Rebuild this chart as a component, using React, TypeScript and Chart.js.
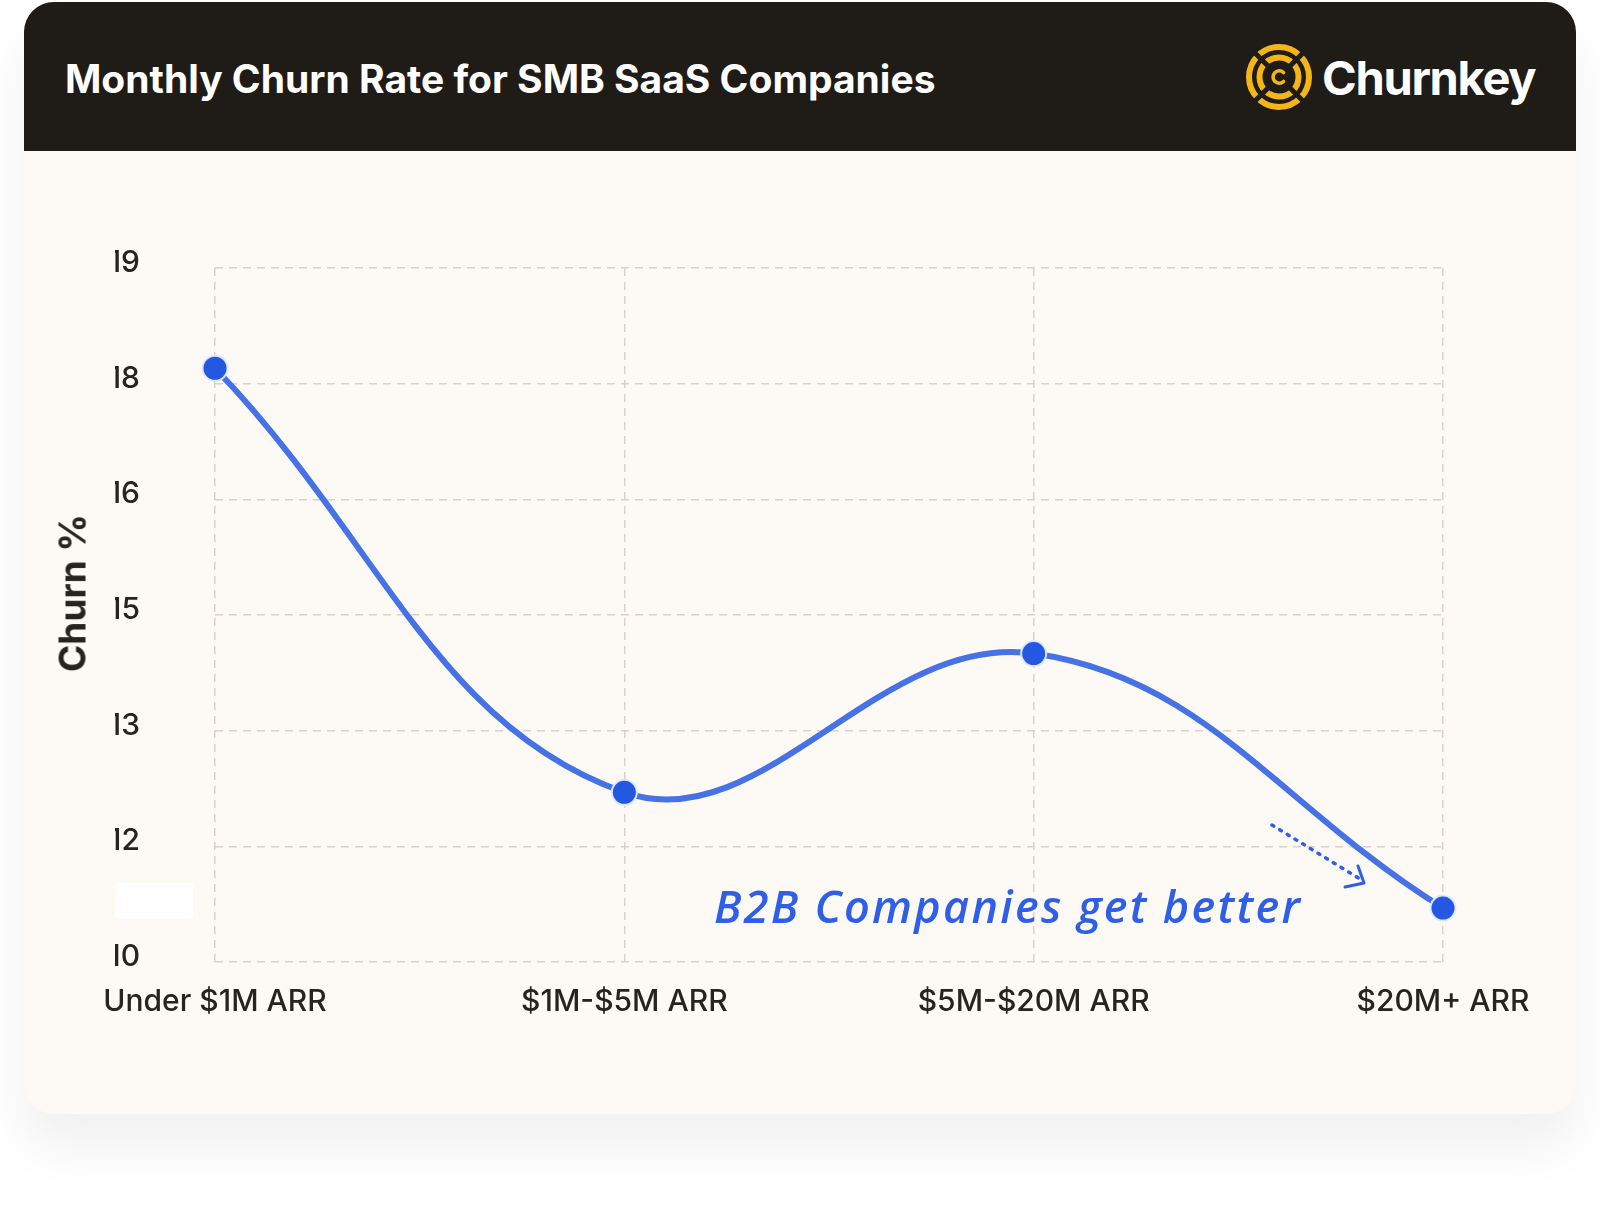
import React, { useEffect, useRef } from "react";
import { Chart, registerables } from "chart.js";

Chart.register(...registerables);

// ---- data ----
const categories = ["Under $1M ARR", "$1M-$5M ARR", "$5M-$20M ARR", "$20M+ ARR"];
const churnValues = [17.7, 12.2, 14.0, 10.7];
const yTickValues = [10, 11.5, 13, 14.5, 16, 17.5, 19];
const yTickLabels = ["10", "12", "13", "15", "16", "18", "19"];
const titleText = "Monthly Churn Rate for SMB SaaS Companies";
const brandText = "Churnkey";
const yAxisTitle = "Churn %";
const annotationText = "B2B Companies get better";

const GOLD = "#f3b517";
const DARK = "#1f1b17";
const BLUE_TEXT = "#2e5fe6";

function Logo() {
  const c = 35;
  return (
    <svg
      width={70}
      height={70}
      viewBox="0 0 70 70"
      style={{ position: "absolute", left: 1244, top: 42 }}
    >
      <circle cx={c} cy={c} r={30} fill="none" stroke={GOLD} strokeWidth={6} />
      <circle cx={c} cy={c} r={19.5} fill="none" stroke={GOLD} strokeWidth={6} />
      <line x1={10} y1={10} x2={60} y2={60} stroke={DARK} strokeWidth={5} />
      <line x1={60} y1={10} x2={10} y2={60} stroke={DARK} strokeWidth={5} />
      <circle cx={c} cy={c} r={10.5} fill={DARK} />
      <path
        d="M 39.5 30.5 A 6.2 6.2 0 1 0 39.5 39.5"
        fill="none"
        stroke={GOLD}
        strokeWidth={3.6}
        strokeLinecap="round"
      />
    </svg>
  );
}

export default function App() {
  const canvasRef = useRef<HTMLCanvasElement | null>(null);

  useEffect(() => {
    if (!canvasRef.current) return;
    const gridColor = "#d8d2cb";
    const tickColor = "#27231f";
    const chart = new Chart(canvasRef.current, {
      type: "line",
      data: {
        labels: categories,
        datasets: [
          {
            data: churnValues,
            borderColor: "#4672e6",
            borderWidth: 6,
            tension: 0.4,
            fill: false,
            pointRadius: 12.5,
            pointHoverRadius: 12.5,
            pointBackgroundColor: "#2458e2",
            pointBorderColor: "rgba(226,234,252,0.95)",
            pointBorderWidth: 2,
            clip: false as any,
          },
        ],
      },
      options: {
        animation: false,
        responsive: false,
        maintainAspectRatio: false,
        layout: { padding: { left: 91, top: 117, right: 133, bottom: 52 } },
        plugins: {
          legend: { display: false },
          tooltip: { enabled: false },
        },
        scales: {
          x: {
            type: "category",
            offset: false,
            grid: { color: gridColor, lineWidth: 1.5, drawTicks: false },
            border: { display: false, dash: [8, 6] },
            ticks: {
              color: tickColor,
              font: { family: "Inter", size: 30, weight: 500 as any },
              padding: 22,
              maxRotation: 0,
              autoSkip: false,
            },
            afterFit: (s: any) => {
              s.height = 100;
            },
          },
          y: {
            type: "linear",
            min: 10,
            max: 19,
            afterBuildTicks: (s: any) => {
              s.ticks = yTickValues.map((v) => ({ value: v }));
            },
            grid: { color: gridColor, lineWidth: 1.5, drawTicks: false },
            border: { display: false, dash: [8, 6] },
            ticks: {
              color: tickColor,
              font: { family: "Inter", size: 30, weight: 500 as any },
              padding: 75,
              labelOffset: -5,
              callback: (_v: any, i: number) => yTickLabels[i],
            },
            afterFit: (s: any) => {
              s.width = 100;
            },
          },
        },
      },
    });
    return () => chart.destroy();
  }, []);

  return (
    <div
      style={{
        position: "absolute",
        left: 0,
        top: 0,
        width: 1600,
        height: 1218,
        background: "#ffffff",
        overflow: "hidden",
        fontFamily: "Inter, sans-serif",
      }}
    >
      {/* card */}
      <div
        style={{
          position: "absolute",
          left: 24,
          top: 2,
          width: 1552,
          height: 1112,
          borderRadius: 30,
          background: "#fdfaf6",
          boxShadow: "0 34px 50px rgba(0,0,0,0.06)",
          overflow: "hidden",
        }}
      >
        <div
          style={{
            position: "absolute",
            left: 0,
            top: 0,
            width: 1552,
            height: 149,
            background: DARK,
          }}
        />
      </div>

      {/* header title */}
      <div
        style={{
          position: "absolute",
          left: 65,
          top: 59,
          fontSize: 39,
          lineHeight: "39px",
          fontWeight: 700,
          color: "#ffffff",
          whiteSpace: "nowrap",
        }}
      >
        {titleText}
      </div>

      <Logo />
      <div
        style={{
          position: "absolute",
          left: 1322,
          top: 54,
          fontSize: 47,
          lineHeight: "47px",
          fontWeight: 700,
          color: "#ffffff",
          whiteSpace: "nowrap",
          letterSpacing: -1.3,
        }}
      >
        {brandText}
      </div>

      {/* chart canvas */}
      <canvas
        ref={canvasRef}
        width={1552}
        height={963}
        style={{ position: "absolute", left: 24, top: 151, width: 1552, height: 963 }}
      />

      {/* covered tick patch */}
      <div
        style={{
          position: "absolute",
          left: 115,
          top: 883,
          width: 78,
          height: 36,
          borderRadius: 4,
          background: "#ffffff",
        }}
      />

      {/* y axis title */}
      <div
        style={{
          position: "absolute",
          left: 72,
          top: 593,
          transform: "translate(-50%, -50%) rotate(-90deg)",
          fontSize: 37,
          lineHeight: "37px",
          fontWeight: 700,
          color: "#27231f",
          whiteSpace: "nowrap",
        }}
      >
        {yAxisTitle}
      </div>

      {/* annotation */}
      <div
        style={{
          position: "absolute",
          left: 714,
          top: 883,
          fontSize: 45,
          lineHeight: "45px",
          fontFamily: "'Open Sans', sans-serif",
          fontStyle: "italic",
          fontWeight: 600,
          color: BLUE_TEXT,
          whiteSpace: "nowrap",
          letterSpacing: 2.3,
        }}
      >
        {annotationText}
      </div>
      <svg
        width={1600}
        height={1218}
        style={{ position: "absolute", left: 0, top: 0, pointerEvents: "none" }}
      >
        <line
          x1={1272}
          y1={825}
          x2={1360}
          y2={879}
          stroke={BLUE_TEXT}
          strokeWidth={3.5}
          strokeDasharray="2 7"
          strokeLinecap="round"
        />
        <polyline
          points="1358,866 1364,883 1345,887"
          fill="none"
          stroke={BLUE_TEXT}
          strokeWidth={3}
          strokeLinecap="round"
          strokeLinejoin="round"
        />
      </svg>
    </div>
  );
}
